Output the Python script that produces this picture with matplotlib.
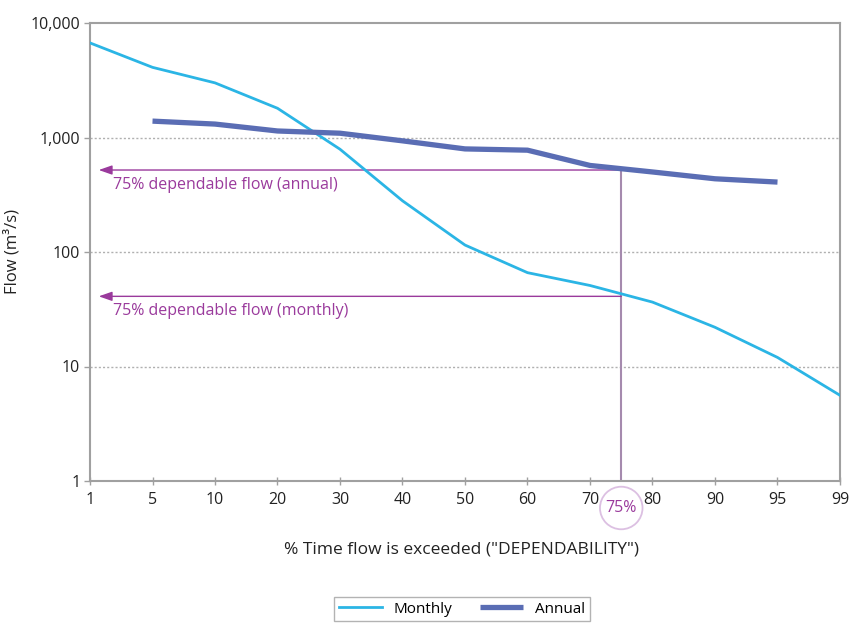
import numpy as np
import matplotlib
matplotlib.use("Agg")
import matplotlib.pyplot as plt

# ---- data ----
tick_pct = [1, 5, 10, 20, 30, 40, 50, 60, 70, 80, 90, 95, 99]
tick_labels = ["1", "5", "10", "20", "30", "40", "50", "60", "70", "80", "90", "95", "99"]

monthly_pct = [1, 5, 10, 20, 30, 40, 50, 60, 70, 80, 90, 95, 99]
monthly_flow = [6700, 4100, 3000, 1800, 790, 280, 115, 66, 51, 36.5, 22, 12, 5.6]

annual_pct = [5, 10, 20, 30, 40, 50, 60, 70, 80, 90, 95]
annual_flow = [1390, 1310, 1140, 1090, 935, 795, 775, 570, 500, 436, 408]

dep_pct = 75
dep_annual = 520
dep_monthly = 41

y_ticks = [1, 10, 100, 1000, 10000]
y_tick_labels = ["1", "10", "100", "1,000", "10,000"]

def pos(p):
    return np.interp(p, tick_pct, np.arange(len(tick_pct)))

plt.rcParams['font.family'] = ['Open Sans', 'DejaVu Sans']

fig = plt.figure(figsize=(8.49, 6.26), dpi=100)
ax = fig.add_axes([90/849, 1-481/626, 750/849, 458/626])

c_month = "#2bb5e5"
c_annual = "#5a6db4"
c_purple = "#9a3a9c"
c_vert = "#a58aae"
c_text = "#222222"

ax.plot(pos(monthly_pct), monthly_flow, color=c_month, lw=2.0, label="Monthly", zorder=3)
ax.plot(pos(annual_pct), annual_flow, color=c_annual, lw=3.8, label="Annual", zorder=3,
        solid_capstyle='butt')

ax.set_yscale('log')
ax.set_ylim(1, 10000)
ax.set_xlim(0, len(tick_pct) - 1)
ax.set_yticks(y_ticks)
ax.set_yticklabels(y_tick_labels)
ax.yaxis.set_minor_locator(matplotlib.ticker.NullLocator())
ax.set_xticks(np.arange(len(tick_pct)))
ax.set_xticklabels(tick_labels)

for v in [10, 100, 1000]:
    ax.axhline(v, color="#b0b0b0", lw=1.0, ls=(0, (1.5, 1.5)), zorder=1)

for s in ax.spines.values():
    s.set_color("#a0a0a0")
    s.set_linewidth(1.5)

ax.tick_params(axis='both', colors="#a0a0a0", labelcolor=c_text, labelsize=11.5,
               length=4, width=1)
ax.tick_params(axis='x', direction='inout', length=6, pad=5)
ax.tick_params(axis='y', direction='out', length=4, pad=3)

# dependability lines
xd = pos(dep_pct)
ax.plot([xd, xd], [1, dep_annual], color=c_vert, lw=1.5, zorder=2)
for yv, txt_y, lbl in [(dep_annual, 385, "75% dependable flow (annual)"),
                       (dep_monthly, 30.5, "75% dependable flow (monthly)")]:
    ax.annotate("", xy=(0.14, yv), xytext=(xd, yv),
                arrowprops=dict(arrowstyle="-|>,head_length=0.8,head_width=0.28",
                                color=c_purple, lw=1.0, shrinkA=0, shrinkB=0), zorder=2)
    ax.text(0.37, txt_y, lbl, color=c_purple, fontsize=11.5, va='center', ha='left')

ax.annotate("75%", xy=(xd, 1), xytext=(0, -27), textcoords='offset pixels',
            color=c_purple, fontsize=11.5, ha='center', va='center', annotation_clip=False,
            bbox=dict(boxstyle='circle,pad=0.35', fc='white', ec='#dcc0e2', lw=1.3), zorder=5)

ax.set_ylabel("Flow (m³/s)", fontsize=12, color=c_text)
ax.yaxis.set_label_coords(-0.093, 0.5)
fig.text(462/849, 1-550/626, '% Time flow is exceeded ("DEPENDABILITY")', ha='center',
         va='center', fontsize=12.5, color=c_text)

fig.legend(loc='upper center', bbox_to_anchor=(462/849, 1-597/626), ncol=2, frameon=True,
           fancybox=False, edgecolor="#a0a0a0", fontsize=11, handlelength=2.8,
           columnspacing=1.8, borderpad=0.3, borderaxespad=0)

fig.savefig("out.png", dpi=100)
